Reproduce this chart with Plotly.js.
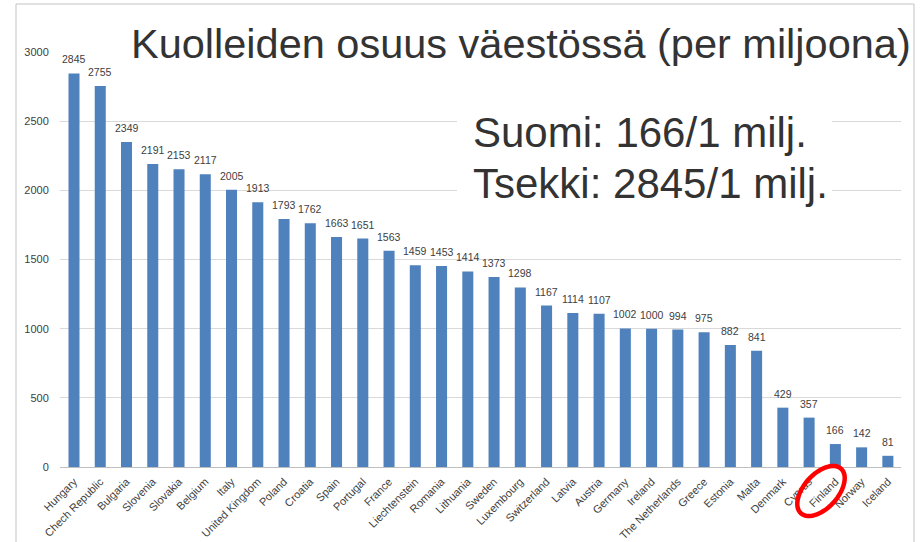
<!DOCTYPE html>
<html>
<head>
<meta charset="utf-8">
<script src="https://cdn.plot.ly/plotly-3.0.1.min.js"></script>
<style>html,body{margin:0;padding:0;background:#fff;}</style>
</head>
<body>
<div id="chart" style="width:922px;height:542px;"></div>
<script>
const countries = ["Hungary","Chech Republic","Bulgaria","Slovenia","Slovakia","Belgium","Italy","United Kingdom","Poland","Croatia","Spain","Portugal","France","Liechtenstein","Romania","Lithuania","Sweden","Luxembourg","Switzerland","Latvia","Austria","Germany","Ireland","The Netherlands","Greece","Estonia","Malta","Denmark","Cyprus","Finland","Norway","Iceland"];
const deathsPerMillion = [2845,2755,2349,2191,2153,2117,2005,1913,1793,1762,1663,1651,1563,1459,1453,1414,1373,1298,1167,1114,1107,1002,1000,994,975,882,841,429,357,166,142,81];
const titleText = "Kuolleiden osuus väestössä (per miljoona)";
const noteLine1 = "Suomi: 166/1 milj.";
const noteLine2 = "Tsekki: 2845/1 milj.";

// layout geometry (pixels)
const W = 922, H = 542;
const M = {l: 60, r: 21, t: 52, b: 75};
const pw = W - M.l - M.r, ph = H - M.t - M.b;
const px = x => (x - M.l) / pw;
const py = y => (H - M.b - y) / ph;
const FONT = "Liberation Sans, Arial, sans-serif";

// rotated ellipse path (paper coords) around highlighted label
function ellipsePath(cx, cy, a, b, angDeg) {
  const t = angDeg * Math.PI / 180;
  let d = "";
  for (let i = 0; i <= 60; i++) {
    const u = i / 60 * 2 * Math.PI;
    const ex = a * Math.cos(u), ey = b * Math.sin(u);
    const X = cx + ex * Math.cos(t) - ey * Math.sin(t);
    const Y = cy + ex * Math.sin(t) + ey * Math.cos(t);
    d += (i === 0 ? "M" : "L") + px(X).toFixed(5) + "," + py(Y).toFixed(5);
  }
  return d + "Z";
}

const trace = {
  type: "bar",
  x: countries,
  y: deathsPerMillion,
  marker: {color: "#4f81bd"},
  hoverinfo: "none"
};

// value labels above each bar, placed in data coordinates
const valueLabels = countries.map((c, i) => ({
  text: String(deathsPerMillion[i]),
  x: c, y: deathsPerMillion[i], xref: "x", yref: "y",
  xanchor: "center", yanchor: "bottom", yshift: 6,
  showarrow: false,
  font: {family: FONT, size: 10.5, color: "#404040"}
}));

const layout = {
  width: W, height: H,
  margin: M,
  paper_bgcolor: "#ffffff",
  plot_bgcolor: "#ffffff",
  showlegend: false,
  bargap: 0.58,
  font: {family: FONT, color: "#404040"},
  xaxis: {
    type: "category",
    tickangle: -45,
    tickfont: {size: 11, color: "#404040"},
    showline: true, linecolor: "#bfbfbf", linewidth: 1,
    ticks: "outside", ticklen: 3, tickcolor: "rgba(0,0,0,0)",
    showgrid: false, automargin: false
  },
  yaxis: {
    range: [0, 3000],
    dtick: 500,
    tickfont: {size: 11, color: "#404040"},
    showline: false,
    gridcolor: "#d9d9d9", gridwidth: 1,
    zeroline: false,
    ticks: "outside", ticklen: 8, tickcolor: "rgba(0,0,0,0)",
    automargin: false
  },
  shapes: [
    {type: "rect", xref: "paper", yref: "paper", x0: px(16), x1: px(914), y0: py(4), y1: py(560),
     line: {color: "#c3c3c3", width: 1}, fillcolor: "rgba(0,0,0,0)", layer: "above"},
    {type: "rect", xref: "paper", yref: "paper", x0: px(117), x1: px(911), y0: py(18), y1: py(78),
     line: {width: 0}, fillcolor: "#ffffff", layer: "above"},
    {type: "rect", xref: "paper", yref: "paper", x0: px(457), x1: px(832), y0: py(105), y1: py(212),
     line: {width: 0}, fillcolor: "#ffffff", layer: "above"},
    {type: "path", xref: "paper", yref: "paper", path: ellipsePath(821, 491, 30, 17, -48),
     line: {color: "#ff0000", width: 4.5}, fillcolor: "rgba(0,0,0,0)", layer: "above"}
  ],
  annotations: [
    {text: titleText, xref: "paper", yref: "paper", x: px(129), y: py(43), xanchor: "left", yanchor: "middle",
     showarrow: false, font: {family: FONT, size: 41.5, color: "#333333"}},
    {text: noteLine1, xref: "paper", yref: "paper", x: px(471), y: py(132), xanchor: "left", yanchor: "middle",
     showarrow: false, font: {family: FONT, size: 42, color: "#333333"}},
    {text: noteLine2, xref: "paper", yref: "paper", x: px(471), y: py(183), xanchor: "left", yanchor: "middle",
     showarrow: false, font: {family: FONT, size: 42, color: "#333333"}}
  ].concat(valueLabels)
};

Plotly.newPlot("chart", [trace], layout, {staticPlot: true, displayModeBar: false});
</script>
</body>
</html>
